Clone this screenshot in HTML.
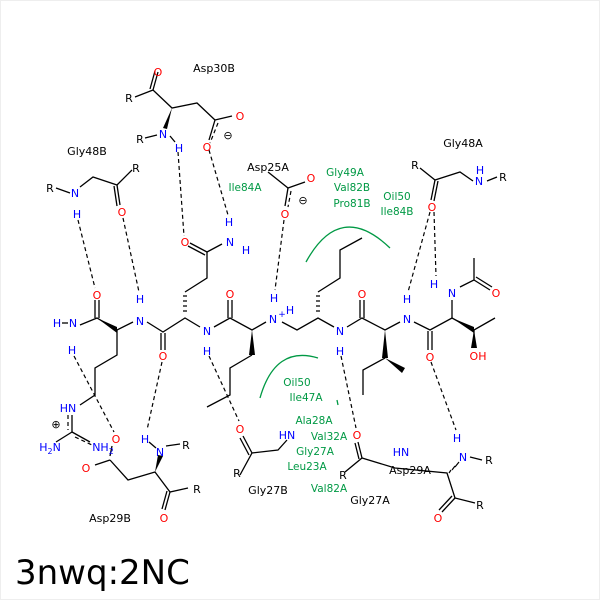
<!DOCTYPE html>
<html><head><meta charset="utf-8"><style>
html,body{margin:0;padding:0;background:#fff}
svg{display:block}
text{font-family:"DejaVu Sans","Liberation Sans",sans-serif;font-size:11px}
.k{fill:#000}.b{fill:#0000ff}.r{fill:#ff0000}.g{fill:#009944;font-size:10.5px}
</style></head><body>
<svg width="600" height="600" viewBox="0 0 600 600" xmlns="http://www.w3.org/2000/svg">
<rect x="0.5" y="0.5" width="599" height="599" fill="#fff" stroke="#eee"/>
<g stroke="#000" stroke-width="1.3" fill="none">
<polyline points="80,325 97,318 117,330 133,322"/>
<line x1="95" y1="318" x2="95" y2="300"/><line x1="99" y1="318" x2="99" y2="300"/>
<polyline points="147,322 163,332 185,318 200,327"/>
<line x1="161" y1="333" x2="161" y2="350"/><line x1="165" y1="333" x2="165" y2="350"/>
<polyline points="214,327 230,318 252,330 266,322"/>
<line x1="228" y1="318" x2="228" y2="300"/><line x1="232" y1="318" x2="232" y2="300"/>
<polyline points="282,322 297,330 318,318 334,327"/>
<polyline points="347,327 362,318 385,330 400,322"/>
<line x1="360" y1="318" x2="360" y2="300"/><line x1="364" y1="318" x2="364" y2="300"/>
<polyline points="414,322 430,330 452,318 474,330 495,318"/>
<line x1="428" y1="331" x2="428" y2="350"/><line x1="432" y1="331" x2="432" y2="350"/>
<line x1="452" y1="318" x2="452" y2="300"/>
<polyline points="460,287 474,280 474,258"/>
<line x1="474" y1="280" x2="490" y2="290"/><line x1="476" y1="277" x2="492" y2="287"/>
<line x1="474" y1="330" x2="474" y2="348"/>
<line x1="62" y1="323" x2="68" y2="323"/>
<polyline points="117,330 117,355 95,368 95,395 80,405"/>
<polyline points="185,292 207,278 207,252"/>
<line x1="207" y1="252" x2="190" y2="243"/><line x1="205" y1="255" x2="188" y2="246"/>
<line x1="207" y1="252" x2="222" y2="244"/>
<polyline points="252,355 230,368 230,395 207,407"/>
<polyline points="318,292 340,278 340,250 362,238"/>
<polyline points="363,395 363,370 385,358"/>
<polyline points="135,97 153,90 172,108 197,103 215,120"/>
<line x1="153" y1="90" x2="158" y2="72"/><line x1="150" y1="89" x2="155" y2="71"/>
<line x1="215" y1="120" x2="232" y2="116"/>
<line x1="215" y1="120" x2="209" y2="140"/>
<line x1="145" y1="138" x2="157" y2="135"/>
<line x1="170" y1="136" x2="175" y2="142"/>
<polyline points="56,188 70,193"/><polyline points="80,187 93,177 117,185 132,170"/>
<line x1="117" y1="185" x2="120" y2="205"/><line x1="114" y1="186" x2="117" y2="206"/>
<polyline points="268,172 288,188 305,182"/>
<line x1="288" y1="188" x2="285" y2="206"/>
<polyline points="420,168 435,180 460,172 473,181"/>
<line x1="435" y1="180" x2="431" y2="200"/><line x1="438" y1="181" x2="434" y2="201"/>
<line x1="487" y1="181" x2="497" y2="177"/>
<line x1="72" y1="415" x2="72" y2="432"/>
<line x1="72" y1="432" x2="56" y2="442"/><line x1="72" y1="432" x2="90" y2="442"/>
<polyline points="110,460 128,480 155,472 170,492 188,488"/>
<line x1="110" y1="460" x2="95" y2="465"/><line x1="110" y1="456" x2="112" y2="446"/>
<line x1="170" y1="492" x2="165" y2="510"/><line x1="167" y1="491" x2="162" y2="509"/>
<line x1="166" y1="446" x2="180" y2="444"/><line x1="149" y1="442" x2="156" y2="448"/>
<polyline points="240,475 252,453 278,450 287,440"/>
<line x1="252" y1="453" x2="243" y2="436"/><line x1="249" y1="455" x2="240" y2="438"/>
<polyline points="345,472 362,458 395,468 447,473 455,498 475,503"/>
<line x1="362" y1="458" x2="358" y2="442"/><line x1="359" y1="459" x2="355" y2="443"/>
<line x1="455" y1="498" x2="442" y2="512"/><line x1="452" y1="496" x2="439" y2="510"/>
<line x1="470" y1="457" x2="482" y2="460"/>
</g>
<g fill="#000">
<polygon points="97,318 117,333 117,327"/>
<polygon points="252,330 249,355 255,355"/>
<polygon points="385,330 382,358 388,358"/>
<polygon points="385,358 405,368 402,373"/>
<polygon points="474,330 471,348 477,348"/>
<polygon points="452,318 474,327 474,333"/>
<polygon points="155,472 158,455 163,456"/>
<polygon points="172,108 163,128 167,129"/>
</g>
<g stroke="#000" stroke-width="1.2">
<path d="M183,296h4M183,301h4M183,306h4M183,311h4"/>
<path d="M316,296h4M316,301h4M316,306h4M316,311h4"/>
<path d="M451,470l-2,3M455,466l-3,4M459,462l-4,5"/>
</g>
<g stroke="#000" stroke-width="1.2" stroke-dasharray="4,3" fill="none">
<line x1="178" y1="152" x2="184" y2="236"/>
<line x1="209" y1="150" x2="228" y2="215"/>
<line x1="284" y1="220" x2="275" y2="290"/>
<line x1="430" y1="212" x2="408" y2="292"/>
<line x1="434" y1="212" x2="436" y2="276"/>
<line x1="78" y1="220" x2="95" y2="288"/>
<line x1="123" y1="218" x2="139" y2="292"/>
<line x1="74" y1="356" x2="114" y2="432"/>
<line x1="162" y1="362" x2="147" y2="430"/>
<line x1="209" y1="356" x2="239" y2="421"/>
<line x1="341" y1="356" x2="356" y2="428"/>
<line x1="431" y1="362" x2="456" y2="430"/>
<line x1="68" y1="415" x2="68" y2="430"/>
<line x1="75" y1="437" x2="92" y2="445"/>
<line x1="218" y1="123" x2="210" y2="143"/>
<line x1="291" y1="191" x2="288" y2="207"/>
</g>
<g stroke="#009944" stroke-width="1.3" fill="none">
<path d="M306,262 Q340,200 390,248"/>
<path d="M260,398 Q275,345 318,358"/>
<path d="M337,400 l1,5"/>
</g>
<g text-anchor="middle">
<text x="158" y="76" class="r">O</text><text x="129" y="102" class="k">R</text>
<text x="163" y="138" class="b">N</text><text x="140" y="143" class="k">R</text><text x="179" y="152" class="b">H</text>
<text x="240" y="120" class="r">O</text><text x="207" y="151" class="r">O</text><text x="228" y="139" class="k">⊖</text>
<text x="214" y="72" class="k">Asp30B</text>
<text x="87" y="155" class="k">Gly48B</text>
<text x="50" y="192" class="k">R</text><text x="75" y="197" class="b">N</text><text x="77" y="218" class="b">H</text>
<text x="136" y="172" class="k">R</text><text x="122" y="216" class="r">O</text>
<text x="268" y="171" class="k">Asp25A</text>
<text x="311" y="182" class="r">O</text><text x="303" y="204" class="k">⊖</text><text x="285" y="218" class="r">O</text>
<text x="185" y="246" class="r">O</text><text x="230" y="246" class="b">N</text><text x="229" y="226" class="b">H</text><text x="246" y="254" class="b">H</text>
<text x="463" y="147" class="k">Gly48A</text>
<text x="415" y="169" class="k">R</text><text x="479" y="185" class="b">N</text><text x="480" y="174" class="b">H</text><text x="503" y="181" class="k">R</text>
<text x="432" y="211" class="r">O</text>
<text x="97" y="299" class="r">O</text><text x="57" y="327" class="b">H</text><text x="73" y="327" class="b">N</text><text x="72" y="354" class="b">H</text>
<text x="140" y="303" class="b">H</text><text x="140" y="325" class="b">N</text>
<text x="163" y="360" class="r">O</text>
<text x="207" y="335" class="b">N</text><text x="207" y="355" class="b">H</text>
<text x="230" y="298" class="r">O</text>
<text x="274" y="302" class="b">H</text><text x="273" y="323" class="b">N</text><text x="282" y="317" class="b" style="font-size:9px">+</text><text x="290" y="314" class="b">H</text>
<text x="340" y="335" class="b">N</text><text x="340" y="355" class="b">H</text>
<text x="362" y="298" class="r">O</text>
<text x="407" y="303" class="b">H</text><text x="407" y="323" class="b">N</text>
<text x="430" y="361" class="r">O</text>
<text x="434" y="288" class="b">H</text><text x="452" y="297" class="b">N</text><text x="496" y="297" class="r">O</text>
<text x="478" y="360" class="r">OH</text>
<text x="68" y="412" class="b">HN</text><text x="56" y="428" class="k">⊕</text>
<text x="50" y="451" class="b">H<tspan dy="3" style="font-size:8px">2</tspan><tspan dy="-3">N</tspan></text>
<text x="103" y="451" class="b">NH<tspan dy="3" style="font-size:8px">2</tspan></text>
<text x="116" y="443" class="r">O</text><text x="86" y="472" class="r">O</text>
<text x="145" y="443" class="b">H</text><text x="160" y="456" class="b">N</text><text x="186" y="449" class="k">R</text>
<text x="197" y="493" class="k">R</text><text x="164" y="522" class="r">O</text>
<text x="110" y="522" class="k">Asp29B</text>
<text x="240" y="433" class="r">O</text><text x="287" y="439" class="b">HN</text><text x="237" y="477" class="k">R</text>
<text x="268" y="494" class="k">Gly27B</text>
<text x="357" y="439" class="r">O</text><text x="401" y="456" class="b">HN</text><text x="343" y="479" class="k">R</text>
<text x="410" y="474" class="k">Asp29A</text><text x="370" y="504" class="k">Gly27A</text>
<text x="457" y="442" class="b">H</text><text x="463" y="461" class="b">N</text><text x="489" y="464" class="k">R</text>
<text x="480" y="509" class="k">R</text><text x="438" y="522" class="r">O</text>
</g>
<g text-anchor="middle">
<text x="245" y="191" class="g">Ile84A</text>
<text x="345" y="176" class="g">Gly49A</text><text x="352" y="191" class="g">Val82B</text><text x="352" y="207" class="g">Pro81B</text>
<text x="397" y="200" class="g">Oil50</text><text x="397" y="215" class="g">Ile84B</text>
<text x="297" y="386" class="g">Oil50</text><text x="306" y="401" class="g">Ile47A</text>
<text x="314" y="424" class="g">Ala28A</text><text x="329" y="440" class="g">Val32A</text>
<text x="315" y="455" class="g">Gly27A</text><text x="307" y="470" class="g">Leu23A</text><text x="329" y="492" class="g">Val82A</text>
</g>
<text x="15" y="584" style="font-size:34px;font-family:'DejaVu Sans','Liberation Sans',sans-serif" fill="#000">3nwq:2NC</text>
</svg>
</body></html>
